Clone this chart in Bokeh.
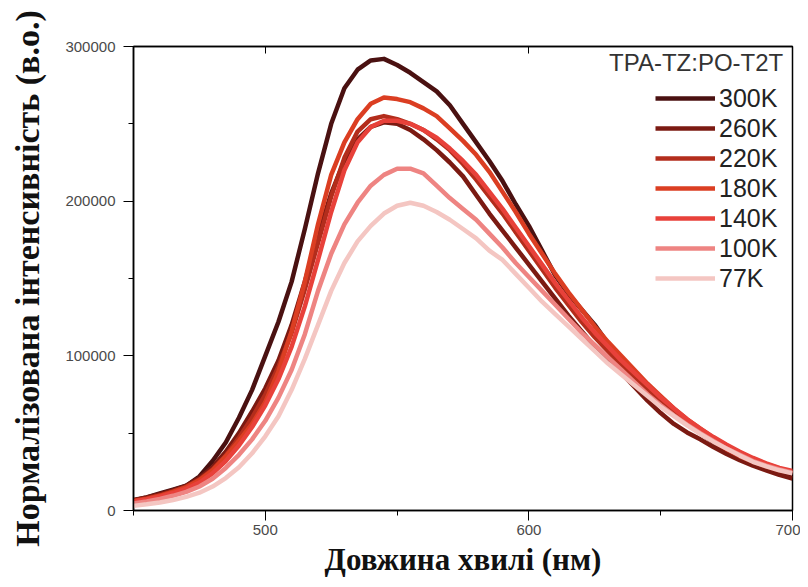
from bokeh.plotting import figure
from bokeh.models import (Range1d, LinearAxis, SingleIntervalTicker, Legend, LegendItem,
                          Label, NumeralTickFormatter, ColumnDataSource)
from bokeh.embed import file_html
from bokeh.resources import INLINE

wavelength = list(range(450, 701, 5))

t300 = [6500, 8500, 11000, 13500, 16000, 22000, 32000, 44000, 60000, 78000,
        100000, 122000, 148000, 182000, 218000, 250000, 273000, 285000, 291000, 292000,
        288000, 283000, 277000, 271000, 262000, 250000, 238000, 226000, 213000, 198000,
        184000, 168000, 152000, 140000, 130000, 120000, 108000, 99000, 90000, 80000,
        72000, 64000, 57000, 50000, 44000, 39000, 34500, 30500, 27500, 24500, 22000]
t260 = [6800, 8500, 10500, 13000, 16000, 21000, 28000, 38000, 50000, 64000,
        79000, 97000, 120000, 148000, 178000, 205000, 226000, 240000, 248000, 251000,
        250000, 246000, 240000, 233000, 225000, 216000, 204000, 192000, 181000, 170000,
        159000, 148000, 137000, 126000, 116000, 106000, 97000, 89000, 80000, 71000,
        63000, 56000, 50500, 46000, 41000, 36500, 32500, 29000, 26000, 23000, 20700]
t220 = [6300, 7800, 9800, 12300, 15300, 20000, 26500, 35500, 47000, 60000,
        75000, 93000, 115000, 143000, 173000, 203000, 228000, 245000, 253000, 255000,
        253000, 250000, 246000, 240000, 233000, 224000, 214000, 203000, 192000, 180000,
        168000, 156000, 144000, 133000, 122000, 112000, 103000, 94000, 86000, 78000,
        70000, 63000, 56000, 50000, 44500, 39500, 35000, 31500, 28500, 26000, 24000]
t180 = [6000, 7500, 9500, 12000, 15000, 19500, 26000, 35000, 45000, 56000,
        70000, 90000, 116000, 148000, 185000, 217000, 238000, 253000, 263000, 267000,
        266000, 264000, 260000, 255000, 247000, 239000, 230000, 219000, 206000, 193000,
        179000, 166000, 153000, 141000, 130000, 119000, 109000, 100000, 91000, 82000,
        74000, 66000, 59000, 53000, 47000, 42000, 37500, 33500, 30000, 27000, 25000]
t140 = [5800, 7200, 9000, 11300, 14000, 18000, 24000, 32000, 42000, 54000,
        68000, 85000, 106000, 132000, 162000, 193000, 220000, 238000, 248000, 252000,
        252000, 250000, 246000, 241000, 234000, 226000, 217000, 206000, 195000, 183000,
        171000, 159000, 147000, 136000, 125000, 115000, 106000, 97000, 89000, 81000,
        73000, 66000, 59000, 53000, 47500, 42500, 38000, 34000, 30500, 27500, 25500]
t100 = [4500, 5800, 7500, 9500, 12000, 15500, 20500, 27500, 36000, 46000,
        58000, 73000, 91000, 114000, 142000, 166000, 185000, 199000, 210000, 217000,
        221000, 221000, 218000, 210000, 202000, 195000, 188000, 179000, 170000, 160000,
        151000, 142000, 133000, 124000, 115000, 107000, 99000, 91000, 83000, 75000,
        68000, 61500, 55500, 50000, 45000, 40000, 36000, 32000, 29000, 26500, 24500]
t77 = [3000, 4000, 5200, 6800, 8800, 11500, 15500, 21000, 28000, 37000,
       48000, 61000, 78000, 98000, 120000, 142000, 160000, 174000, 184000, 192000,
       197000, 199000, 197000, 193000, 188000, 182000, 176000, 168000, 162000, 153000,
       144000, 135000, 127000, 119000, 111000, 103000, 95000, 88000, 81000, 74000,
       67000, 61000, 55000, 49500, 44500, 40000, 35500, 31500, 28500, 26000, 24000]

series_labels = ["300K", "260K", "220K", "180K", "140K", "100K", "77K"]
series_values = [t300, t260, t220, t180, t140, t100, t77]
series_colors = ["#4a1111", "#7b1a12", "#b32d1c", "#db3e22", "#e8413a", "#ee8482", "#f4c6c2"]
legend_title = "TPA-TZ:PO-T2T"

p = figure(width=800, height=579, output_backend="svg", toolbar_location=None,
           x_range=Range1d(450, 700), y_range=Range1d(0, 300000),
           min_border_left=133, min_border_right=8, min_border_top=46, min_border_bottom=69)
p.grid.visible = False
p.outline_line_color = "black"
p.outline_line_width = 1.5
p.background_fill_color = "white"
p.border_fill_color = "white"

items = []
for lab, vals, col in zip(series_labels, series_values, series_colors):
    src = ColumnDataSource(dict(x=wavelength, y=vals))
    r = p.line("x", "y", source=src, line_color=col, line_width=4.5, line_join="round")
    items.append(LegendItem(label=lab, renderers=[r]))

tick_font = "Liberation Sans"
xa = p.xaxis[0]
xa.ticker = SingleIntervalTicker(interval=100, num_minor_ticks=2)
xa.axis_label = "Довжина хвилі (нм)"
ya = p.yaxis[0]
ya.ticker = SingleIntervalTicker(interval=100000, num_minor_ticks=2)
ya.formatter = NumeralTickFormatter(format="0")
ya.axis_label = "Нормалізована інтенсивність (в.о.)"
for ax in (xa, ya):
    ax.axis_line_color = "black"
    ax.axis_line_width = 1.5
    ax.major_tick_line_color = "black"
    ax.minor_tick_line_color = "black"
    ax.major_tick_out = 10
    ax.major_tick_in = 0
    ax.minor_tick_out = 5
    ax.minor_tick_in = 0
    ax.major_label_text_font = tick_font
    ax.major_label_text_font_size = "15px"
    ax.major_label_text_color = "#4a4a4a"
    ax.axis_label_text_font = "Liberation Serif"
    ax.axis_label_text_font_style = "bold"
    ax.axis_label_text_color = "#111111"
ya.axis_label_text_font_size = "34px"
xa.axis_label_text_font_size = "31px"
ya.major_label_standoff = 8
ya.axis_label_standoff = 16
xa.major_label_standoff = 4
xa.axis_label_standoff = 4

top = LinearAxis(ticker=SingleIntervalTicker(interval=100, num_minor_ticks=2),
                 major_tick_in=7, major_tick_out=0, minor_tick_in=0, minor_tick_out=0,
                 major_label_text_font_size="10px", major_label_text_color=None,
                 axis_line_color="black", axis_line_width=1.5)
p.add_layout(top, "above")

legend = Legend(items=items, location=(522, 217), padding=0, margin=0, spacing=0,
                glyph_width=60, glyph_height=30, label_height=30, label_standoff=4,
                label_text_font=tick_font, label_text_font_size="25px",
                label_text_color="#222222", border_line_alpha=0, background_fill_alpha=0)
p.add_layout(legend)

p.add_layout(Label(x=696.5, y=289700, text=legend_title, text_align="right",
                   text_baseline="middle", text_font=tick_font, text_font_size="24px",
                   text_color="#333333"))

open("out.html", "w").write(file_html(p, INLINE))
